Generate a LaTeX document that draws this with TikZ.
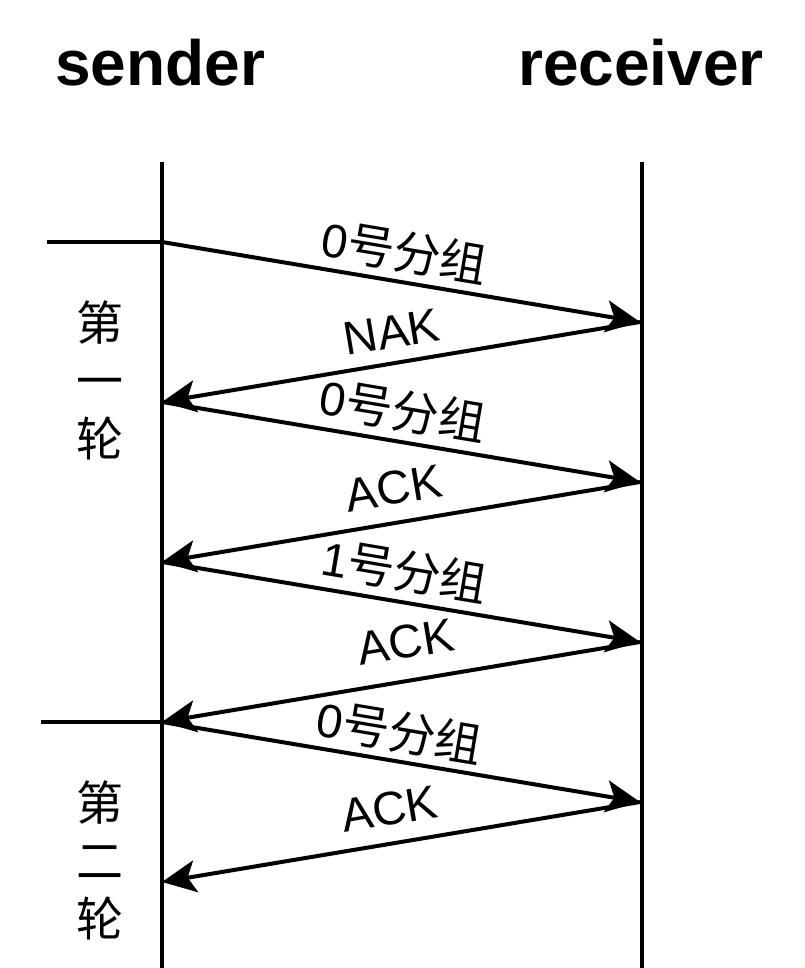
\documentclass[tikz,border=0pt]{standalone}
\usepackage{fontspec}
\setmainfont{Liberation Sans}
\newfontfamily\cjk{Noto Sans CJK SC}
\usetikzlibrary{arrows.meta}
\begin{document}
\begin{tikzpicture}[x=1pt,y=-1pt,
  lifeline/.style={line width=4pt},
  msg/.style={line width=4pt,-{Stealth[length=34pt,width=32pt,inset=8pt]}},
  msglabel/.style={sloped,inner sep=2pt,font=\fontsize{47}{54}\selectfont},
  title/.style={anchor=base,font=\fontsize{64}{76}\selectfont\bfseries},
  round/.style={align=center,font=\fontsize{47}{58}\selectfont\cjk}]
\useasboundingbox (0,0) rectangle (804,968);
\node[title] (snd) at (160,86) {sender};
\node[title] (rcv) at (641,86) {receiver};
\coordinate (s0) at (162,162);
\coordinate (s1) at (162,968);
\coordinate (r0) at (642,162);
\coordinate (r5) at (642,968);
\coordinate (sA) at (162,242);
\coordinate (sB) at (162,402);
\coordinate (sC) at (162,562);
\coordinate (sD) at (162,722);
\coordinate (sE) at (162,882);
\coordinate (r1) at (640,322);
\coordinate (r2) at (640,482);
\coordinate (r3) at (640,642);
\coordinate (r4) at (640,802);
\coordinate (l1) at (47,242);
\coordinate (l2) at (41,722);
\draw[lifeline] (s0) -- (s1);
\draw[lifeline] (r0) -- (r5);
\draw[lifeline] (l1) -- (sA);
\draw[lifeline] (l2) -- (sD);
\draw[msg] (sA) -- (r1) node[msglabel,pos=0.497,above=5pt] (m1) {0{\cjk 号分组}};
\draw[msg] (r1) -- (sB) node[msglabel,pos=0.509,above=11pt] (m2) {NAK};
\draw[msg] (sB) -- (r2) node[msglabel,pos=0.493,above=6pt] (m3) {0{\cjk 号分组}};
\draw[msg] (r2) -- (sC) node[msglabel,pos=0.503,above=14pt] (m4) {ACK};
\draw[msg] (sC) -- (r3) node[msglabel,pos=0.497,above=6pt] (m5) {1{\cjk 号分组}};
\draw[msg] (r3) -- (sD) node[msglabel,pos=0.477,above=18pt] (m6) {ACK};
\draw[msg] (sD) -- (r4) node[msglabel,pos=0.487,above=4pt] (m7) {0{\cjk 号分组}};
\draw[msg] (r4) -- (sE) node[msglabel,pos=0.513,above=14pt] (m8) {ACK};
\node[round] (g1) at (100,380) {第\\一\\轮};
\node[round] (g2) at (100,860) {第\\二\\轮};
\end{tikzpicture}
\end{document}
